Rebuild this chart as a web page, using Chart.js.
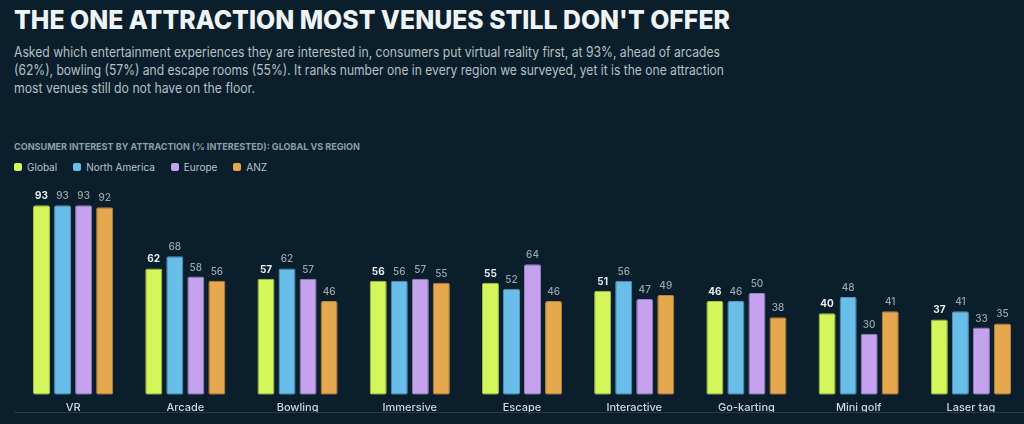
<!DOCTYPE html>
<html>
<head>
<meta charset="utf-8">
<script src="https://cdn.jsdelivr.net/npm/chart.js@4.4.1/dist/chart.umd.min.js"></script>
<style>
  html, body { margin: 0; padding: 0; }
  body {
    width: 1024px; height: 424px; overflow: hidden; position: relative;
    background: #0b1e2b; font-family: Inter, "Noto Sans", sans-serif;
  }
  .fit { position: absolute; left: 14px; white-space: nowrap; transform-origin: 0 50%; }
  #title { top: 5px; font-size: 26px; font-weight: 800; color: #eef3f6; line-height: 30px; }
  .sub { font-size: 14px; color: #b5c0c6; line-height: 18px; }
  #chartTitle { top: 141px; font-size: 9.5px; font-weight: 700; color: #8c9ea8; line-height: 12px; }
  #legend { position: absolute; left: 14px; top: 161px; height: 12px; display: flex; font-size: 10px; color: #b8c4ca; }
  #legend .item { display: flex; align-items: center; margin-right: 16px; }
  #legend .box { width: 8px; height: 8px; border-radius: 2px; margin-right: 5px; }
  #sep { position: absolute; left: 14px; top: 412px; width: 1010px; height: 1px; background: #273a46; }
  #wrap { position: absolute; left: 0; top: 180px; width: 1028px; height: 244px; }
</style>
</head>
<body>
<div id="title" class="fit" data-w="716">THE ONE ATTRACTION MOST VENUES STILL DON'T OFFER</div>
<div class="fit sub" style="top:43px" data-w="706">Asked which entertainment experiences they are interested in, consumers put virtual reality first, at 93%, ahead of arcades</div>
<div class="fit sub" style="top:61px" data-w="710">(62%), bowling (57%) and escape rooms (55%). It ranks number one in every region we surveyed, yet it is the one attraction</div>
<div class="fit sub" style="top:79px" data-w="241">most venues still do not have on the floor.</div>
<div id="chartTitle" class="fit" data-w="346">CONSUMER INTEREST BY ATTRACTION (% INTERESTED): GLOBAL VS REGION</div>
<div id="legend"></div>
<div id="wrap"><canvas id="chart" width="1028" height="244"></canvas></div>
<div id="sep"></div>

<script>
// categories and series
const categories = ["VR", "Arcade", "Bowling", "Immersive", "Escape", "Interactive", "Go-karting", "Mini golf", "Laser tag"];
const seriesNames = ["Global", "North America", "Europe", "ANZ"];
const globalValues = [93, 62, 57, 56, 55, 51, 46, 40, 37];
const northAmericaValues = [93, 68, 62, 56, 52, 56, 46, 48, 41];
const europeValues = [93, 58, 57, 57, 64, 47, 50, 30, 33];
const anzValues = [92, 56, 46, 55, 46, 49, 38, 41, 35];
const seriesColors = ["#d4f65a", "#68bde9", "#c4a2ee", "#e6a84f"];
const seriesBorders = ["#a9c43f", "#4f98bf", "#9c7fc4", "#b98539"];

// squeeze header text to the widths in the reference
document.querySelectorAll(".fit").forEach(el => {
    const w = el.getBoundingClientRect().width;
    el.style.transform = "scaleX(" + (Number(el.dataset.w) / w) + ")";
});

// html legend
const legend = document.getElementById("legend");
seriesNames.forEach((name, i) => {
    const item = document.createElement("div");
    item.className = "item";
    item.innerHTML = '<span class="box" style="background:' + seriesColors[i] + '"></span>' + name;
    legend.appendChild(item);
});

// value labels above each bar
const valueLabels = {
    id: "valueLabels",
    afterDatasetsDraw(chart) {
        const ctx = chart.ctx;
        ctx.save();
        ctx.textAlign = "center";
        ctx.textBaseline = "middle";
        chart.data.datasets.forEach((ds, di) => {
            const meta = chart.getDatasetMeta(di);
            ctx.font = (di === 0 ? "700 " : "500 ") + "10px Inter, sans-serif";
            ctx.fillStyle = di === 0 ? "#e9eef1" : "#98a7af";
            meta.data.forEach((bar, i) => {
                ctx.fillText(ds.data[i], bar.x, bar.y - 9);
            });
        });
        ctx.restore();
    }
};

const allValues = [globalValues, northAmericaValues, europeValues, anzValues];

new Chart(document.getElementById("chart"), {
    type: "bar",
    data: {
        labels: categories,
        datasets: allValues.map((vals, i) => ({
            label: seriesNames[i],
            data: vals,
            backgroundColor: seriesColors[i],
            borderColor: seriesBorders[i],
            borderWidth: 1,
            borderRadius: 2,
            borderSkipped: false,
            categoryPercentage: 0.75,
            barPercentage: 0.81
        }))
    },
    options: {
        responsive: false,
        animation: false,
        layout: { padding: { left: 17, right: 1, top: 11, bottom: 4 } },
        plugins: { legend: { display: false }, tooltip: { enabled: false } },
        scales: {
            x: {
                grid: { display: false, drawTicks: false },
                border: { display: false },
                ticks: {
                    color: "#cfd7db",
                    padding: 6,
                    maxRotation: 0,
                    font: { family: "Inter", size: 11, weight: 500 }
                }
            },
            y: {
                display: false,
                min: 0,
                max: 100
            }
        }
    },
    plugins: [valueLabels]
});
</script>
</body>
</html>
